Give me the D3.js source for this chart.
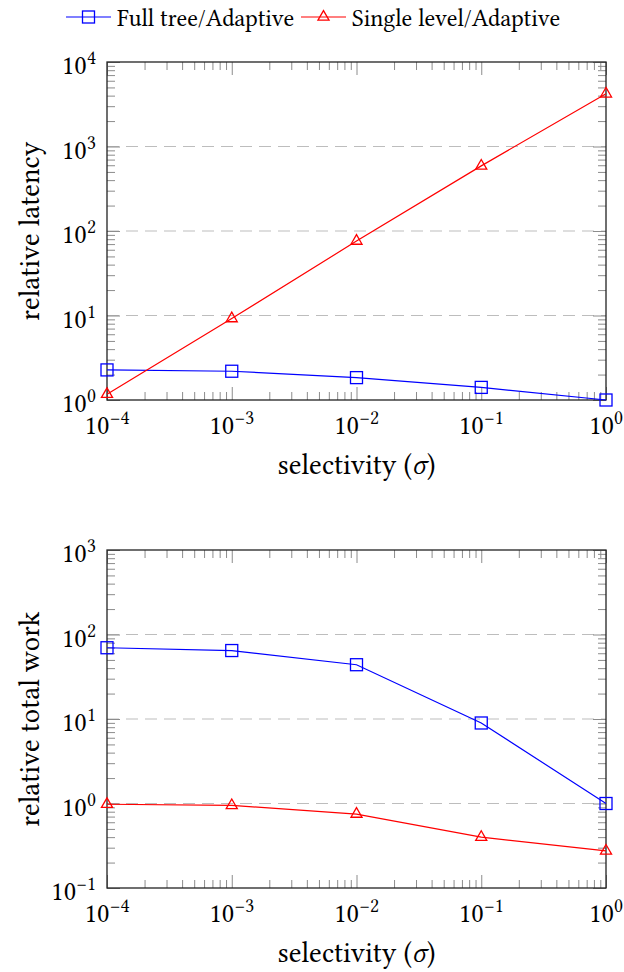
<!DOCTYPE html>
<html>
<head>
<meta charset="utf-8">
<script src="https://cdn.jsdelivr.net/npm/d3@7/dist/d3.min.js"></script>
<style>
  html, body { margin: 0; padding: 0; background: #fff; }
  svg { display: block; }
</style>
</head>
<body>
<svg id="chart" width="624" height="972"></svg>
<script>
// ---- data ----
const sigma = [1e-4, 1e-3, 1e-2, 1e-1, 1];
const seriesNames = ["Full tree/Adaptive", "Single level/Adaptive"];
const latencyFull   = [2.27, 2.19, 1.84, 1.41, 1.0];
const latencySingle = [1.17, 9.2, 76, 590, 4200];
const workFull      = [69.7, 64.6, 43.9, 8.97, 1.0];
const workSingle    = [0.98, 0.95, 0.75, 0.40, 0.275];
const xTickValues = [1e-4, 1e-3, 1e-2, 1e-1, 1];
const xTickExps   = ["\u22124", "\u22123", "\u22122", "\u22121", "0"];
const topYTickValues = [1, 10, 100, 1000, 10000];
const topYTickExps   = ["0", "1", "2", "3", "4"];
const botYTickValues = [0.1, 1, 10, 100, 1000];
const botYTickExps   = ["\u22121", "0", "1", "2", "3"];
const xLabel = "selectivity (";
const xLabelSym = "\u03C3";
const topYLabel = "relative latency";
const botYLabel = "relative total work";

const BLUE = "#0000ff", RED = "#ff0000";
const FONT = "Libertinus Serif";
const svg = d3.select("#chart");

function minorTicks(lo, hi) {
  const out = [];
  for (let e = Math.round(Math.log10(lo)); e < Math.round(Math.log10(hi)); e++) {
    for (let m = 2; m <= 9; m++) out.push(m * Math.pow(10, e));
  }
  return out;
}

function drawPanel(opts) {
  const { top, bottom, left, right, yDomain, yTicks, yExps, yLabel, full, single } = opts;
  const x = d3.scaleLog().domain([1e-4, 1]).range([left, right]);
  const y = d3.scaleLog().domain(yDomain).range([bottom, top]);
  const g = svg.append("g");
  const W = right - left, H = bottom - top;

  g.append("g").selectAll("line").data(yTicks.slice(1, -1)).join("line")
    .attr("x1", left).attr("x2", right)
    .attr("y1", d => y(d)).attr("y2", d => y(d))
    .attr("stroke", "#bdbdbd").attr("stroke-width", 1.1)
    .attr("stroke-dasharray", "12,7");

  const tickStyle = sel => {
    sel.select(".domain").remove();
    sel.selectAll("line").attr("stroke", "#8c8c8c").attr("stroke-width", 1);
    sel.selectAll("text").remove();
  };
  const xMinor = minorTicks(1e-4, 1);
  const yMinor = minorTicks(yDomain[0], yDomain[1]);

  g.append("g").attr("transform", `translate(0,${bottom})`)
    .call(d3.axisBottom(x).tickValues(xTickValues).tickSize(-13)).call(tickStyle);
  g.append("g").attr("transform", `translate(0,${bottom})`)
    .call(d3.axisBottom(x).tickValues(xMinor).tickSize(-8)).call(tickStyle);
  g.append("g").attr("transform", `translate(0,${top})`)
    .call(d3.axisTop(x).tickValues(xTickValues).tickSize(-13)).call(tickStyle);
  g.append("g").attr("transform", `translate(0,${top})`)
    .call(d3.axisTop(x).tickValues(xMinor).tickSize(-8)).call(tickStyle);
  g.append("g").attr("transform", `translate(${left},0)`)
    .call(d3.axisLeft(y).tickValues(yTicks).tickSize(-13)).call(tickStyle);
  g.append("g").attr("transform", `translate(${left},0)`)
    .call(d3.axisLeft(y).tickValues(yMinor).tickSize(-8)).call(tickStyle);
  g.append("g").attr("transform", `translate(${right},0)`)
    .call(d3.axisRight(y).tickValues(yTicks).tickSize(-13)).call(tickStyle);
  g.append("g").attr("transform", `translate(${right},0)`)
    .call(d3.axisRight(y).tickValues(yMinor).tickSize(-8)).call(tickStyle);

  g.append("rect").attr("x", left).attr("y", top).attr("width", W).attr("height", H)
    .attr("fill", "none").attr("stroke", "#222").attr("stroke-width", 1.3);

  const xl = g.append("g").selectAll("text").data(xTickValues).join("text")
    .attr("x", d => x(d)).attr("y", bottom + 34)
    .attr("font-family", FONT)
    .attr("text-anchor", "middle").attr("font-size", 27);
  xl.append("tspan").text("10");
  xl.append("tspan").attr("dy", -10).attr("font-size", 19.5).text((d, i) => xTickExps[i]);

  const yl = g.append("g").selectAll("text").data(yTicks).join("text")
    .attr("x", left - 11).attr("y", d => y(d) + 12)
    .attr("font-family", FONT)
    .attr("text-anchor", "end").attr("font-size", 27);
  yl.append("tspan").text("10");
  yl.append("tspan").attr("dy", -10).attr("font-size", 19.5).text((d, i) => yExps[i]);

  const xt = g.append("text").attr("x", (left + right) / 2).attr("y", bottom + 74)
    .attr("font-family", FONT)
    .attr("text-anchor", "middle").attr("font-size", 28.5);
  xt.append("tspan").text(xLabel);
  xt.append("tspan").attr("font-style", "italic").text(xLabelSym);
  xt.append("tspan").text(")");
  g.append("text")
    .attr("transform", `translate(39,${(top + bottom) / 2}) rotate(-90)`)
    .attr("font-family", FONT)
    .attr("text-anchor", "middle").attr("font-size", 28.5).text(yLabel);

  const line = d3.line().x((d, i) => x(sigma[i])).y(d => y(d));
  g.append("path").datum(full).attr("d", line).attr("fill", "none")
    .attr("stroke", BLUE).attr("stroke-width", 1.2);
  g.append("path").datum(single).attr("d", line).attr("fill", "none")
    .attr("stroke", RED).attr("stroke-width", 1.2);

  g.append("g").selectAll("rect").data(full).join("rect")
    .attr("x", (d, i) => x(sigma[i]) - 6).attr("y", d => y(d) - 6)
    .attr("width", 12).attr("height", 12)
    .attr("fill", "none").attr("stroke", BLUE).attr("stroke-width", 1.3);
  const r = 6.4;
  const tri = `M0,${-r}L${r * 0.866},${r * 0.5}L${-r * 0.866},${r * 0.5}Z`;
  g.append("g").selectAll("path").data(single).join("path")
    .attr("transform", (d, i) => `translate(${x(sigma[i])},${y(d)})`)
    .attr("d", tri).attr("fill", "none").attr("stroke", RED).attr("stroke-width", 1.3);
}

drawPanel({ top: 62, bottom: 400, left: 107, right: 606,
  yDomain: [1, 1e4], yTicks: topYTickValues, yExps: topYTickExps, yLabel: topYLabel,
  full: latencyFull, single: latencySingle });
drawPanel({ top: 550, bottom: 888, left: 107, right: 606,
  yDomain: [0.1, 1e3], yTicks: botYTickValues, yExps: botYTickExps, yLabel: botYLabel,
  full: workFull, single: workSingle });

const legend = svg.append("g");
const legendItems = [
  { name: seriesNames[0], color: BLUE, x0: 66, marker: "square" },
  { name: seriesNames[1], color: RED, x0: 301, marker: "tri" }
];
const ly = 17;
legendItems.forEach(it => {
  legend.append("line").attr("x1", it.x0).attr("x2", it.x0 + 45)
    .attr("y1", ly).attr("y2", ly).attr("stroke", it.color).attr("stroke-width", 1.2);
  if (it.marker === "square") {
    legend.append("rect").attr("x", it.x0 + 22.5 - 6).attr("y", ly - 6)
      .attr("width", 12).attr("height", 12).attr("fill", "none")
      .attr("stroke", it.color).attr("stroke-width", 1.3);
  } else {
    const r = 6.4;
    legend.append("path").attr("transform", `translate(${it.x0 + 22.5},${ly})`)
      .attr("d", `M0,${-r}L${r * 0.866},${r * 0.5}L${-r * 0.866},${r * 0.5}Z`)
      .attr("fill", "none").attr("stroke", it.color).attr("stroke-width", 1.3);
  }
  legend.append("text").attr("x", it.x0 + 51).attr("y", ly + 9)
    .attr("font-family", FONT)
    .attr("font-size", 24).text(it.name);
});
</script>
</body>
</html>
